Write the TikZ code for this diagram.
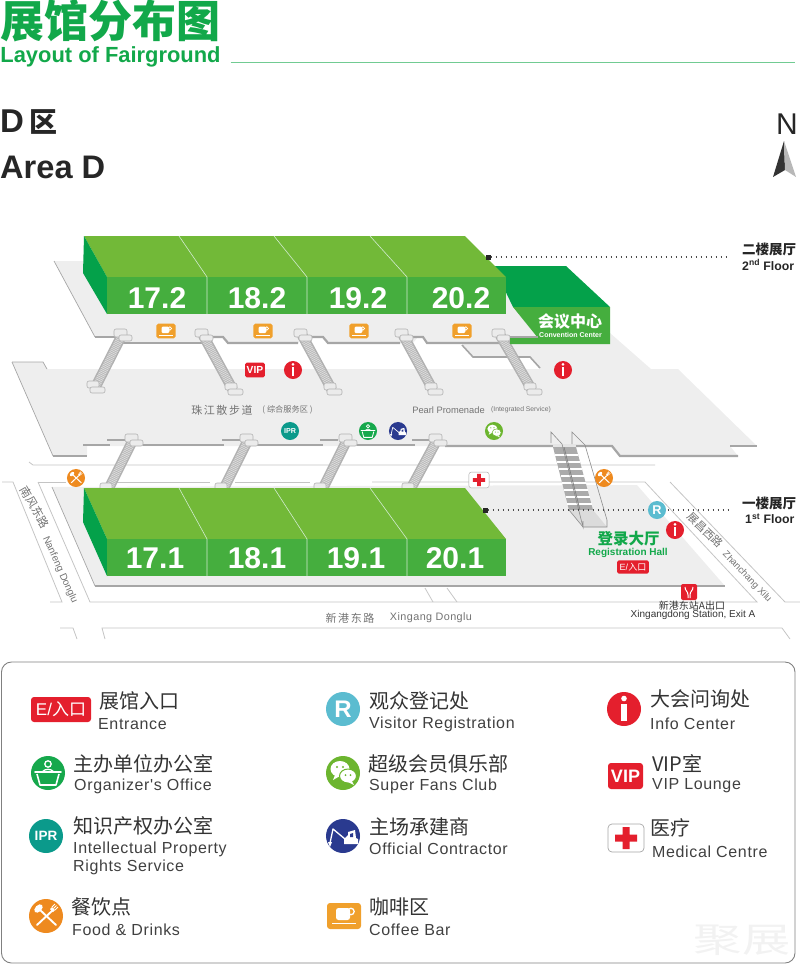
\documentclass[tikz,border=0pt]{standalone}
\usepackage{amsmath}
\usepackage{fontspec}
\usepackage{tikz}
\usepackage{xcolor}
\usetikzlibrary{shapes, positioning}
\setmainfont{Liberation Sans}
\newfontfamily\cjk{Noto Sans CJK SC}
\newfontfamily\spaced[LetterSpace=4]{Liberation Sans}
\newfontfamily\cjkspaced[LetterSpace=14]{Noto Sans CJK SC}

\definecolor{hallgreen}{HTML}{45AE3E}
\definecolor{hallroof}{HTML}{72B938}
\definecolor{hallside}{HTML}{04A14A}
\definecolor{titlegreen}{HTML}{12A84A}
\definecolor{floorgrey}{HTML}{EEEEEE}
\definecolor{edgegrey}{HTML}{A6A6A6}
\definecolor{roadgrey}{HTML}{C4C4C4}
\definecolor{signred}{HTML}{E41F2D}
\definecolor{signorange}{HTML}{EE8A1F}
\definecolor{coffeeorange}{HTML}{F0A02C}
\definecolor{signcyan}{HTML}{5BBCD0}
\definecolor{signteal}{HTML}{0B9A8B}
\definecolor{signnavy}{HTML}{2A3A8F}
\definecolor{signgreen}{HTML}{16A84C}
\definecolor{signlime}{HTML}{6CB52F}

\tikzset{
    floor/.style={fill=floorgrey, draw=none},
    rim/.style={draw=edgegrey, line width=2.2pt},
    thinrim/.style={draw=edgegrey, line width=.7pt},
    road/.style={draw=roadgrey, line width=.8pt},
    roof/.style={fill=hallroof, draw=none},
    side/.style={fill=hallside, draw=none},
    front/.style={fill=hallgreen, draw=none},
    seam/.style={draw=white!75!hallgreen, line width=.6pt},
    hallnum/.style={text=white, font=\bfseries\fontsize{30}{30}\selectfont, inner sep=0pt},
    head/.style={anchor=west, inner sep=0pt, text=black!85, font=\bfseries},
    floorlabel/.style={anchor=west, inner sep=0pt, text=black!85, font=\bfseries\fontsize{12.3}{12.3}\selectfont},
    leader/.style={draw=black!70, line width=1.2pt, dash pattern=on 1.5pt off 3.5pt},
    mapcn/.style={inner sep=0pt, text=black!55, font=\cjk\fontsize{11}{11}\selectfont},
    mapen/.style={inner sep=0pt, text=black!55, font=\fontsize{10}{10}\selectfont},
    cnlabel/.style={anchor=west, inner sep=0pt, text=black!80, font=\cjk\fontsize{20}{20}\selectfont},
    enlabel/.style={anchor=west, inner sep=0pt, text=black!75, font=\spaced\fontsize{16}{16}\selectfont},
    stairbody/.style={draw=black!30, line width=10.5pt},
    stairtread/.style={draw=black!14, line width=7.5pt, dash pattern=on .9pt off .9pt},
    stairpad/.style={fill=black!8, draw=black!30, line width=.6pt, rounded corners=2pt},
    infosign/.pic={
        \begin{scope}[scale=#1, transform shape]
            \fill[signred] (0,0) circle (17pt);
            \fill[white] (0,-10.5) circle (2.8pt);
            \fill[white] (-2.7,-5.5) rectangle (2.7,12);
        \end{scope}
    },
    regsign/.pic={
        \begin{scope}[scale=#1, transform shape]
            \fill[signcyan] (0,0) circle (17pt);
            \node[text=white, inner sep=0pt, font=\bfseries\fontsize{24}{24}\selectfont] (-t) at (0,0) {R};
        \end{scope}
    },
    iprsign/.pic={
        \begin{scope}[scale=#1, transform shape]
            \fill[signteal] (0,0) circle (17pt);
            \node[text=white, inner sep=0pt, font=\bfseries\fontsize{13.5}{13.5}\selectfont] (-t) at (0,0) {IPR};
        \end{scope}
    },
    orgsign/.pic={
        \begin{scope}[scale=#1, transform shape]
            \fill[signgreen] (0,0) circle (17pt);
            \draw[white, line width=#1*1.3pt] (0,-9) circle (3.2pt);
            \draw[white, line width=#1*1.3pt] (-6,-1) to[bend left=50] (6,-1);
            \draw[white, line width=#1*1.6pt, line cap=round] (-13,-1) to (13,-1);
            \draw[white, line width=#1*1.6pt, line join=round] (-11,1) -- (-8,12) -- (8,12) -- (11,1);
        \end{scope}
    },
    wechatsign/.pic={
        \begin{scope}[scale=#1, transform shape]
            \fill[signlime] (0,0) circle (17pt);
            \fill[white] (-3,-4) ellipse (9.5pt and 8pt);
            \fill[white] (-8,2) -- (-10,7) -- (-3,3) -- cycle;
            \filldraw[fill=white, draw=signlime, line width=#1*1pt] (5,3) ellipse (8.5pt and 7pt);
            \fill[white] (9,8) -- (11,12) -- (5,9) -- cycle;
            \fill[signlime] (-6,-6) circle (1.2pt) (0,-6) circle (1.2pt) (2.5,2) circle (1pt) (7.5,2) circle (1pt);
        \end{scope}
    },
    contrsign/.pic={
        \begin{scope}[scale=#1, transform shape]
            \fill[signnavy] (0,0) circle (17pt);
            \draw[white, line width=#1*1.3pt, line join=round] (-13,7) -- (-10,-7) -- (2,3);
            \fill[white] (-15,6) -- (-11,6) -- (-13,11) -- cycle;
            \fill[white] (1,3) -- (5,-1) -- (5,-4) -- (12,-6) -- (13,2) -- (15,3) -- (15,8) -- (1,8) -- cycle;
            \fill[signnavy] (7,-2) -- (10,-3) -- (10,1) -- (7,1) -- cycle;
        \end{scope}
    },
    foodsign/.pic={
        \begin{scope}[scale=#1, transform shape]
            \fill[signorange] (0,0) circle (17pt);
            \draw[white, line width=#1*1.9pt, line cap=round] (-7,-7) to (10,9);
            \draw[white, line width=#1*1.9pt, line cap=round] (7,-6) to (-9,9);
            \fill[white, rotate around={45:(-7.5,-7.5)}] (-7.5,-7.5) ellipse (5pt and 3.2pt);
            \draw[white, line width=#1*.9pt] (6,-9) to (9,-12) (7.5,-7.5) to (10.5,-10.5) (9,-6) to (12,-9);
            \fill[white] (6,-9) -- (9,-6) -- (7,-4) -- (4,-7) -- cycle;
        \end{scope}
    },
    coffeesign/.pic={
        \begin{scope}[scale=#1, transform shape]
            \fill[coffeeorange, rounded corners=#1*3pt] (-17,-13) rectangle (17,13);
            \draw[white, line width=#1*1.3pt] (7,-4.5) circle (3.2pt);
            \fill[white, rounded corners=#1*2.5pt] (-8,-8) rectangle (6,4);
            \draw[white, line width=#1*1.4pt] (-12,7.5) to (12,7.5);
        \end{scope}
    },
    vipsign/.pic={
        \begin{scope}[scale=#1, transform shape]
            \fill[signred, rounded corners=#1*3pt] (-17.5,-13) rectangle (17.5,13);
            \node[text=white, inner sep=0pt, font=\bfseries\fontsize{18}{18}\selectfont] (-t) at (0,0) {VIP};
        \end{scope}
    },
    medsign/.pic={
        \begin{scope}[scale=#1, transform shape]
            \filldraw[fill=white, draw=black!35, line width=#1*.7pt, rounded corners=#1*4pt] (-18,-14) rectangle (18,14);
            \fill[signred] (-3.5,-11) rectangle (3.5,11) (-11,-3.5) rectangle (11,3.5);
        \end{scope}
    },
    entsign/.pic={
        \begin{scope}[scale=#1, transform shape]
            \fill[signred, rounded corners=#1*3pt] (-30,-12.5) rectangle (30,12.5);
            \node[text=white, inner sep=0pt, font=\fontsize{17}{17}\selectfont] (-t) at (0,0) {E/{\cjk 入口}};
        \end{scope}
    }
}

\newcommand{\stairs}[4]{
    \draw[stairbody] (#1,#2) to (#3,#4);
    \draw[stairtread] (#1,#2) to (#3,#4);
    \filldraw[stairpad] (#1-8,#2-6) rectangle (#1+5,#2+2);
    \filldraw[stairpad] (#1-3,#2) rectangle (#1+10,#2+6);
    \filldraw[stairpad] (#3-8,#4-7) rectangle (#3+4,#4);
    \filldraw[stairpad] (#3-5,#4-1) rectangle (#3+10,#4+5);
}

\begin{document}
\begin{tikzpicture}[x=1pt, y=-1pt]
        \useasboundingbox (0,0) rectangle (800,967);

        \node[inner sep=0pt, text=titlegreen, font=\cjk\bfseries\fontsize{44}{44}\selectfont] (title) at (111, 21) {展馆分布图};
        \node[inner sep=0pt, text=titlegreen, font=\bfseries\fontsize{21.9}{21.9}\selectfont] (titleen) at (110.5, 57) {Layout of Fairground};
        \node[inner sep=0pt] (ruleend) at (796, 62.5) {};
        \node[inner sep=0pt] (rulestart) at (230, 62.5) {};
        \draw[titlegreen!60, line width=.9pt] (rulestart) to (ruleend);

        \node[head, font=\bfseries\fontsize{33}{33}\selectfont] (areacn) at (0, 122) {D\,{\cjk\bfseries\fontsize{28}{28}\selectfont 区}};
        \node[head, font=\bfseries\fontsize{32.6}{32.6}\selectfont] (areaen) at (0, 167) {Area D};

        \node[inner sep=0pt, text=black!85, font=\fontsize{30}{30}\selectfont] (north) at (787, 124) {N};
        \fill[black!80] (784,141) -- (773,177) -- (785,170) -- cycle;
        \fill[black!28] (784,141) -- (796,177) -- (785,170) -- cycle;

        \draw[road] (29,462) -- (33,465) -- (655,465);
        \draw[road] (38,482) -- (66,482);
        \draw[road] (115,482) -- (210,482);
        \draw[road] (235,482) -- (310,482);
        \draw[road] (372,482) -- (645,482) -- (757,602) -- (90,602) -- (38,482);
        \draw[road] (2,482) -- (13,482) -- (62,602) -- (50,602);
        \draw[road] (670,482) -- (785,602) -- (800,602);
        \draw[road] (425,588) -- (433,602);
        \draw[road] (447,588) -- (457,602);
        \draw[road] (60,628) -- (73,628) -- (77,639);
        \draw[road] (105,639) -- (102,628) -- (782,628) -- (790,639);

        \fill[floor] (52,487) -- (95,586) -- (725,586) -- (637,485) -- cycle;
        \draw[rim] (95,586) -- (725,586);
        \draw[thinrim] (52,487) -- (95,586);

        \fill[floor] (12,362) -- (43,362) -- (47,369) -- (678,369) -- (757,446) -- (730,446) -- (738,456) -- (620,456) -- (612,446) -- (87,446) -- (87,456) -- (53,456) -- cycle;
        \draw[thinrim] (12,362) -- (53,456);
        \draw[thinrim] (12,362) -- (43,362) -- (47,369);
        \draw[rim] (53,456) -- (87,456);
        \draw[rim] (83,445) -- (110,445);
        \draw[rim] (107,440) -- (127,440);
        \draw[rim] (143,445) -- (224,445);
        \draw[rim] (222,440) -- (240,440);
        \draw[rim] (257,445) -- (323,445);
        \draw[rim] (320,440) -- (338,440);
        \draw[rim] (357,445) -- (415,445);
        \draw[rim] (412,440) -- (430,440);
        \draw[rim] (445,446) -- (612,446) -- (620,456) -- (738,456);
        \draw[rim] (730,446) -- (757,446);

        \fill[floor] (54,261) -- (95,337) -- (118,337) -- (123,343) -- (203,343) -- (208,337) -- (223,337) -- (228,343) -- (298,343) -- (303,337) -- (323,337) -- (328,343) -- (413,343) -- (418,337) -- (423,337) -- (427,343) -- (462,343) -- (473,357) -- (530,357) -- (540,369) -- (651,369) -- (610,333) -- (560,270) -- (90,261) -- cycle;
        \draw[thinrim] (54,261) -- (95,337);
        \draw[rim] (95,337) -- (118,337);
        \draw[rim] (123,343) -- (203,343);
        \draw[rim] (213,337) -- (223,337) -- (228,343) -- (298,343);
        \draw[rim] (308,337) -- (323,337) -- (328,343) -- (400,343);
        \draw[rim] (410,337) -- (423,337) -- (427,343) -- (510,343);
        \draw[line width=1.6pt, edgegrey] (462,345) -- (473,357) -- (530,357) -- (540,368);

        \stairs{122}{335}{95}{388}
        \stairs{203}{335}{233}{390}
        \stairs{302}{335}{332}{390}
        \stairs{403}{335}{433}{390}
        \stairs{500}{335}{532}{390}

        \stairs{133}{440}{108}{490}
        \stairs{248}{440}{223}{490}
        \stairs{347}{440}{322}{490}
        \stairs{437}{440}{410}{490}

        \fill[black!33] (553,447) -- (576,447) -- (593,510) -- (569,510) -- cycle;
        \draw[white, line width=1.6pt] (555,455) -- (578,455) (557,462) -- (580,462) (559,469) -- (582,469) (561,476) -- (584,476) (562,483) -- (586,483) (564,490) -- (588,490) (566,497) -- (590,497) (567,504) -- (592,504);
        \draw[black!50, line width=.7pt] (564,447) -- (580,510);
        \fill[black!14] (569,510) -- (593,510) -- (607,527) -- (583,527) -- cycle;
        \fill[black!10] (553,444) -- (576,444) -- (576,447) -- (553,447) -- cycle;
        \draw[black!45, line width=.6pt] (551,443) -- (551,432) -- (562,444) -- (583,527) -- (583,521);
        \draw[black!45, line width=.6pt] (572,444) -- (572,432) -- (585,445) -- (607,520) -- (607,527) -- (583,527);
        \draw[black!45, line width=.6pt] (569,510) -- (583,527);

        \fill[hallside] (495,266) -- (566,266) -- (610,307) -- (513,307) -- (500,280) -- cycle;
        \fill[front] (513,307) -- (610,307) -- (610,344) -- (510,344) -- (510,338) -- (538,338) -- cycle;
        \draw[rim] (510,337) -- (538,337);

        \fill[roof] (84,236) -- (465,236) -- (506,277) -- (107,277) -- cycle;
        \fill[side] (84,236) -- (107,277) -- (107,314) -- (83,273) -- cycle;
        \fill[front] (107,277) rectangle (506,314);
        \draw[seam] (179,236) -- (207,277) -- (207,314);
        \draw[seam] (274,236) -- (307,277) -- (307,314);
        \draw[seam] (370,236) -- (407,277) -- (407,314);

        \fill[roof] (84,488) -- (465,488) -- (506,539) -- (107,539) -- cycle;
        \fill[side] (84,488) -- (107,539) -- (107,576) -- (83,522) -- cycle;
        \fill[front] (107,539) rectangle (506,576);
        \draw[seam] (179,488) -- (207,539) -- (207,576);
        \draw[seam] (274,488) -- (307,539) -- (307,576);
        \draw[seam] (370,488) -- (407,539) -- (407,576);

        \node[hallnum] (h172) at (157, 298) {17.2};
        \node[hallnum] (h182) at (257, 298) {18.2};
        \node[hallnum] (h192) at (358, 298) {19.2};
        \node[hallnum] (h202) at (461, 298) {20.2};
        \node[hallnum] (h171) at (155, 558) {17.1};
        \node[hallnum] (h181) at (257, 558) {18.1};
        \node[hallnum] (h191) at (356, 558) {19.1};
        \node[hallnum] (h201) at (455, 558) {20.1};

        \node[inner sep=0pt, text=white, font=\cjk\bfseries\fontsize{16}{16}\selectfont] (confcn) at (570, 321) {会议中心};
        \node[inner sep=0pt, text=white, font=\bfseries\fontsize{7}{7}\selectfont] (confen) at (570.5, 335) {Convention Center};

        \node[fill=black!85, inner sep=0pt, minimum size=5pt] (mark2) at (488, 257) {};
        \coordinate (end2) at (730, 257);
        \draw[leader] (mark2) to (end2);
        \node[fill=black!85, inner sep=0pt, minimum size=5pt] (mark1) at (485, 510) {};
        \coordinate (end1) at (729, 510);
        \draw[leader] (mark1) to (end1);

        \node[floorlabel, font=\cjk\bfseries\fontsize{13.5}{13.5}\selectfont] (floor2cn) at (742, 249) {二楼展厅};
        \node[floorlabel] (floor2en) at (742, 265) {2\textsuperscript{nd} Floor};
        \node[floorlabel, font=\cjk\bfseries\fontsize{13.5}{13.5}\selectfont] (floor1cn) at (742, 503) {一楼展厅};
        \node[floorlabel] (floor1en) at (745, 519) {1\textsuperscript{st} Floor};

        \node[mapcn, font=\cjkspaced\fontsize{11}{11}\selectfont] (pearlcn) at (222, 410) {珠江散步道};
        \node[mapcn, font=\cjk\fontsize{8.2}{8.2}\selectfont] (pearlsub) at (287.5, 410) {( 综合服务区 )};
        \node[mapen, font=\fontsize{9.3}{9.3}\selectfont] (pearlen) at (448.5, 410) {Pearl Promenade};
        \node[mapen, font=\fontsize{6.8}{6.8}\selectfont] (pearlensub) at (521, 410) {(Integrated Service)};

        \node[mapcn, font=\cjkspaced\fontsize{11}{11}\selectfont] (xgcn) at (350, 618) {新港东路};
        \node[mapen, font=\spaced\fontsize{10.8}{10.8}\selectfont] (xgen) at (431, 618) {Xingang Donglu};
        \node[mapcn, rotate=-60, font=\cjk\fontsize{11.5}{11.5}\selectfont] (nfcn) at (35, 507) {南风东路};
        \node[mapen, rotate=-66] (nfen) at (60, 570) {Nanfeng Donglu};
        \node[mapcn, rotate=-44] (zccn) at (705, 530) {展昌西路};
        \node[mapen, rotate=-46, font=\fontsize{9.5}{9.5}\selectfont] (zcen) at (747, 577) {Zhanchang Xilu};

        \node[inner sep=0pt, text=titlegreen, font=\cjk\bfseries\fontsize{15.5}{15.5}\selectfont] (regcn) at (628.5, 539) {登录大厅};
        \node[inner sep=0pt, text=titlegreen, font=\bfseries\fontsize{10}{10}\selectfont] (regen) at (628, 553) {Registration Hall};
        \node[inner sep=0pt, text=black!80, font=\cjk\fontsize{10}{10}\selectfont] (stationcn) at (692, 606) {新港东站A出口};
        \node[inner sep=0pt, text=black!80, font=\fontsize{10}{10}\selectfont] (stationen) at (693, 615) {Xingangdong Station, Exit A};

        \pic (cafe1) at (166, 331) {coffeesign=.56};
        \pic (cafe2) at (263, 331) {coffeesign=.56};
        \pic (cafe3) at (359, 331) {coffeesign=.56};
        \pic (cafe4) at (462, 331) {coffeesign=.56};
        \pic (vipmap) at (255, 370) {vipsign=.57};
        \pic (info1) at (293, 370) {infosign=.53};
        \pic (info2) at (563, 370) {infosign=.53};
        \pic (info3) at (675, 530) {infosign=.53};
        \pic (iprmap) at (290, 431) {iprsign=.53};
        \pic (orgmap) at (368, 431) {orgsign=.53};
        \pic (contrmap) at (398, 431) {contrsign=.53};
        \pic (wechatmap) at (494, 431) {wechatsign=.53};
        \pic (food1) at (76, 478) {foodsign=.53};
        \pic (food2) at (604, 478) {foodsign=.53};
        \pic (medmap) at (479, 480) {medsign=.56};
        \pic (regmap) at (657, 510) {regsign=.53};
        \pic (entmap) at (633, 567) {entsign=.53};
        \fill[signred, rounded corners=2pt] (681,584) rectangle (697,600);
        \draw[white, line width=1pt] (685,587) .. controls (685,591) and (688,591) .. (688,595) -- (688,598);
        \draw[white, line width=1pt] (693,587) .. controls (693,591) and (690,591) .. (690,595) -- (690,598);

        \draw[black!50, line width=.9pt, rounded corners=10pt] (1.5,662) rectangle (795,963);
        \node[inner sep=0pt, text=black!5, xscale=1.05, yscale=.75, font=\cjk\fontsize{46}{46}\selectfont] (mark) at (742, 940) {聚展};

        \pic (entleg) at (61, 709.5) {entsign=1};
        \node[cnlabel] (entcn) at (99, 701) {展馆入口};
        \node[enlabel] (enten) at (98, 724) {Entrance};
        \pic (regleg) at (343, 709) {regsign=1};
        \node[cnlabel] (regleglcn) at (369, 701) {观众登记处};
        \node[enlabel] (reglegen) at (369, 724) {Visitor Registration};
        \pic (infoleg) at (624, 709) {infosign=1};
        \node[cnlabel] (infocn) at (650, 699) {大会问询处};
        \node[enlabel] (infoen) at (650, 724) {Info Center};

        \pic (orgleg) at (48, 773) {orgsign=1};
        \node[cnlabel] (orgcn) at (73, 764) {主办单位办公室};
        \node[enlabel] (orgen) at (74, 786) {Organizer's Office};
        \pic (wechatleg) at (343, 773) {wechatsign=1};
        \node[cnlabel] (wechatcn) at (368, 764) {超级会员俱乐部};
        \node[enlabel] (wechaten) at (369, 786) {Super Fans Club};
        \pic (vipleg) at (625.5, 776) {vipsign=1};
        \node[cnlabel] (vipcn) at (652, 764) {VIP{\cjk 室}};
        \node[enlabel] (vipen) at (652, 786) {VIP Lounge};

        \pic (iprleg) at (46, 836) {iprsign=1};
        \node[cnlabel] (iprcn) at (73, 826) {知识产权办公室};
        \node[enlabel] (ipren) at (73, 849) {Intellectual Property};
        \node[enlabel] (ipren2) at (73, 867) {Rights Service};
        \pic (contrleg) at (343, 836) {contrsign=1};
        \node[cnlabel] (contrcn) at (369, 827) {主场承建商};
        \node[enlabel] (contren) at (369, 849) {Official Contractor};
        \pic (medleg) at (626, 838) {medsign=1};
        \node[cnlabel] (medcn) at (650, 828) {医疗};
        \node[enlabel] (meden) at (652, 852) {Medical Centre};

        \pic (foodleg) at (46, 916) {foodsign=1};
        \node[cnlabel] (foodcn) at (71, 907) {餐饮点};
        \node[enlabel] (fooden) at (72, 930) {Food \& Drinks};
        \pic (cafeleg) at (344, 916) {coffeesign=1};
        \node[cnlabel] (cafecn) at (369, 907) {咖啡区};
        \node[enlabel] (cafeen) at (369, 930) {Coffee Bar};
    \end{tikzpicture}
\end{document}
